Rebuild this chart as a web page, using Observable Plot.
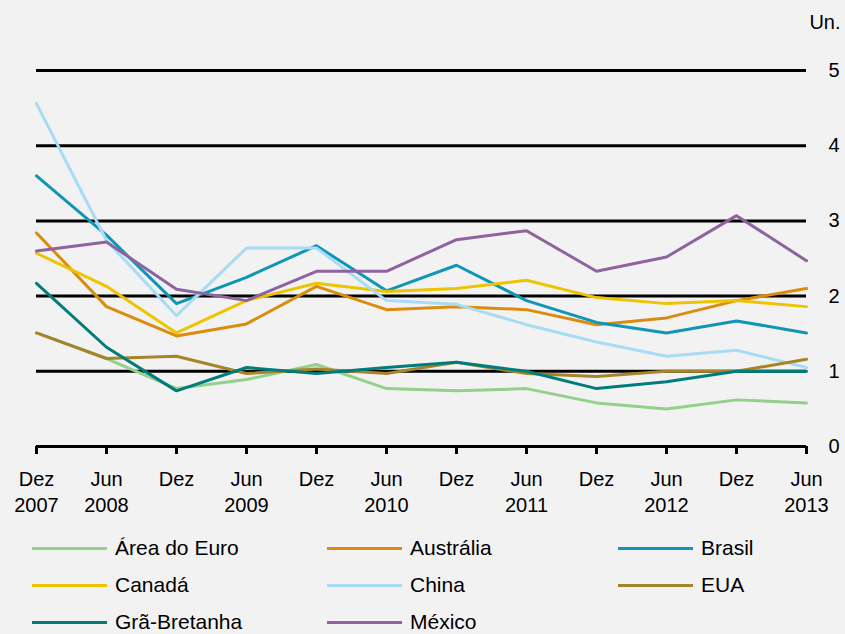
<!DOCTYPE html>
<html>
<head>
<meta charset="utf-8">
<script src="https://cdn.jsdelivr.net/npm/d3@7"></script>
<script src="https://cdn.jsdelivr.net/npm/@observablehq/plot@0.6"></script>
<style>
  html, body { margin: 0; padding: 0; background: #f2f2f2; }
  #wrap { position: relative; width: 845px; height: 634px; overflow: hidden; font-family: "Liberation Sans", Arial, sans-serif; }
  #legend { position: absolute; left: 0; top: 520px; width: 845px; height: 114px; }
  .item { position: absolute; display: flex; align-items: center; font-size: 21px; color: #000; white-space: nowrap; height: 30px; }
  .sw { display: inline-block; width: 75px; height: 3px; margin-right: 8px; }
  #chart svg { overflow: visible; }
</style>
</head>
<body>
<div id="wrap"><div id="chart"></div><div id="legend"></div></div>
<script>
const months = ["Dez","Jun","Dez","Jun","Dez","Jun","Dez","Jun","Dez","Jun","Dez","Jun"];
const years  = ["2007","2008","","2009","","2010","","2011","","2012","","2013"];

const seriesNames = ["Área do Euro","Austrália","Brasil","Canadá","China","EUA","Grã-Bretanha","México"];
const seriesColors = ["#93d18b","#dc8c0c","#0f96b6","#eec300","#a8dcf5","#a5842a","#007d7a","#8e63a0"];

const areaEuro   = [1.51,1.17,0.77,0.89,1.09,0.77,0.74,0.77,0.58,0.50,0.62,0.58];
const australia  = [2.84,1.86,1.47,1.63,2.13,1.82,1.86,1.82,1.62,1.71,1.94,2.10];
const brasil     = [3.60,2.81,1.90,2.25,2.67,2.07,2.41,1.94,1.65,1.51,1.67,1.51];
const canada     = [2.57,2.13,1.51,1.94,2.17,2.06,2.10,2.21,1.98,1.90,1.94,1.86];
const china      = [4.56,2.74,1.74,2.64,2.64,1.94,1.89,1.62,1.39,1.20,1.28,1.05];
const eua        = [1.51,1.17,1.20,0.97,1.03,0.97,1.12,0.97,0.93,1.00,1.00,1.16];
const graBretanha= [2.17,1.32,0.74,1.05,0.97,1.05,1.12,1.00,0.77,0.86,1.00,1.00];
const mexico     = [2.60,2.72,2.09,1.94,2.33,2.33,2.75,2.87,2.33,2.52,3.07,2.47];

const yTicks = [0,1,2,3,4,5];
const yTickLabels = ["0","1","2","3","4","5"];

const seriesValues = [areaEuro, australia, brasil, canada, china, eua, graBretanha, mexico];
const rows = [];
seriesValues.forEach((vals, k) => vals.forEach((v, i) => rows.push({s: seriesNames[k], i, v})));

const chart = Plot.plot({
  width: 845,
  height: 520,
  marginLeft: 36,
  marginRight: 39,
  marginTop: 70,
  marginBottom: 74,
  style: {background: "transparent", fontFamily: "'Liberation Sans', Arial, sans-serif", fontSize: "20px", color: "#000", overflow: "visible"},
  x: {domain: [0, 11]},
  y: {domain: [0, 5]},
  color: {domain: seriesNames, range: seriesColors},
  marks: [
    Plot.ruleY(yTicks, {stroke: "#000", strokeWidth: 3}),
    Plot.axisX({ticks: d3.range(months.length), tickFormat: i => months[i] + "\n" + years[i],
      tickSize: 8, tickPadding: 13, strokeWidth: 3, stroke: "#000", fill: "#000", fontSize: 20, lineHeight: 1.3, label: null}),
    Plot.axisY({anchor: "right", ticks: yTicks, tickFormat: d => yTickLabels[yTicks.indexOf(d)], tickSize: 0, tickPadding: 22, fontSize: 20, fill: "#000", label: null, textAnchor: "start"}),
    Plot.line(rows, {x: "i", y: "v", z: "s", stroke: "s", strokeWidth: 3}),
    Plot.text(["Un."], {frameAnchor: "top-right", dx: 34, dy: -42, textAnchor: "end", lineAnchor: "bottom", fontSize: 20, fill: "#000"})
  ]
});
document.getElementById("chart").appendChild(chart);

const cols = [32, 327, 618];
const rowCenters = [28, 65, 102];
const legend = document.getElementById("legend");
seriesNames.forEach((name, k) => {
  const el = document.createElement("div");
  el.className = "item";
  el.style.left = cols[k % 3] + "px";
  el.style.top = (rowCenters[Math.floor(k / 3)] - 15) + "px";
  const sw = document.createElement("span");
  sw.className = "sw";
  sw.style.background = seriesColors[k];
  el.appendChild(sw);
  el.appendChild(document.createTextNode(name));
  legend.appendChild(el);
});
</script>
</body>
</html>
